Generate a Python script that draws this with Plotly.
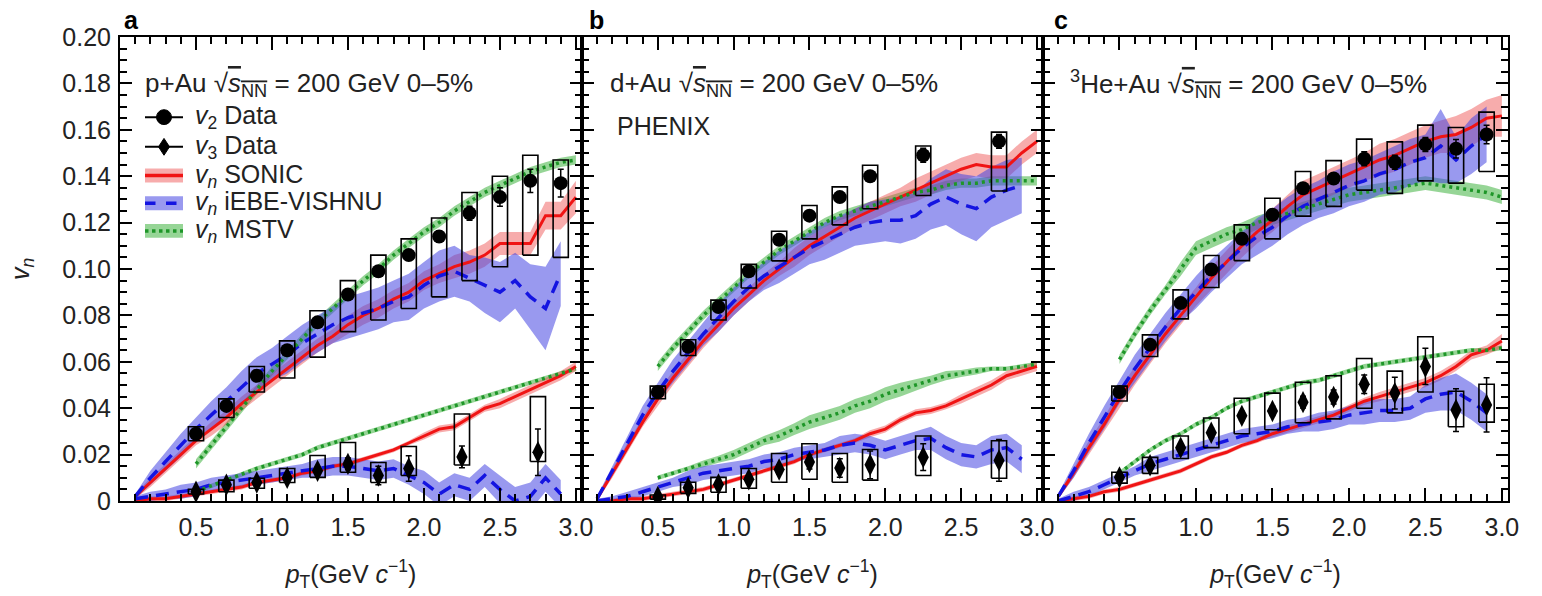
import plotly.graph_objects as go

# ---------------- data ----------------
pt_model = [0.1, 0.2, 0.3, 0.4, 0.5, 0.6, 0.7, 0.8, 0.9, 1.0, 1.1, 1.2, 1.3, 1.4, 1.5,
            1.6, 1.7, 1.8, 1.9, 2.0, 2.1, 2.2, 2.3, 2.4, 2.5, 2.6, 2.7, 2.8, 2.9, 3.0]
pt_vishnu = [0.1, 0.2, 0.3, 0.4, 0.5, 0.6, 0.7, 0.8, 0.9, 1.0, 1.1, 1.2, 1.3, 1.4, 1.5,
             1.6, 1.7, 1.8, 1.9, 2.0, 2.1, 2.2, 2.3, 2.4, 2.5, 2.6, 2.7, 2.8, 2.9]
pt_mstv = [0.5, 0.6, 0.7, 0.8, 0.9, 1.0, 1.1, 1.2, 1.3, 1.4, 1.5, 1.6, 1.7, 1.8, 1.9,
           2.0, 2.1, 2.2, 2.3, 2.4, 2.5, 2.6, 2.7, 2.8, 2.9, 3.0]

# Data points
pt_fine = [0.5, 0.7, 0.9, 1.1, 1.3, 1.5, 1.7, 1.9, 2.1, 2.3, 2.5, 2.7, 2.9]
pt_coarse = [0.5, 0.7, 0.9, 1.1, 1.3, 1.5, 1.7, 1.9, 2.25, 2.75]

# panel a: p+Au
a_v2 = [0.029, 0.041, 0.054, 0.065, 0.077, 0.089, 0.099, 0.106, 0.114, 0.124, 0.131, 0.138, 0.137]
a_v2_lo = [0.026, 0.036, 0.047, 0.053, 0.062, 0.073, 0.078, 0.083, 0.088, 0.095, 0.101, 0.106, 0.105]
a_v2_hi = [0.032, 0.044, 0.058, 0.069, 0.082, 0.095, 0.106, 0.113, 0.122, 0.133, 0.140, 0.149, 0.147]
a_v2_err = [0.001, 0.001, 0.001, 0.001, 0.001, 0.0015, 0.002, 0.002, 0.0025, 0.003, 0.004, 0.005, 0.006]
a_v3 = [0.004, 0.007, 0.008, 0.010, 0.013, 0.016, 0.011, 0.014, 0.019, 0.021]
a_v3_lo = [0.003, 0.004, 0.0055, 0.008, 0.0102, 0.0124, 0.008, 0.011, 0.0155, 0.017]
a_v3_hi = [0.005, 0.009, 0.0098, 0.014, 0.0196, 0.0252, 0.0166, 0.0235, 0.0375, 0.045]
a_v3_err = [0.0005, 0.001, 0.001, 0.001, 0.0015, 0.0025, 0.004, 0.0055, 0.0047, 0.010]

# panel b: d+Au
b_v2 = [0.047, 0.0665, 0.0836, 0.099, 0.1126, 0.123, 0.131, 0.140, 0.149, 0.155]
b_v2_lo = [0.0441, 0.0627, 0.078, 0.0918, 0.1035, 0.113, 0.119, 0.126, 0.1317, 0.1336]
b_v2_hi = [0.0495, 0.0695, 0.0866, 0.102, 0.1163, 0.1274, 0.1354, 0.1447, 0.153, 0.159]
b_v2_err = [0.001, 0.001, 0.001, 0.0015, 0.0015, 0.002, 0.002, 0.002, 0.003, 0.003]
b_v3 = [0.0017, 0.0057, 0.0071, 0.0094, 0.0136, 0.0168, 0.0142, 0.0156, 0.0189, 0.0175]
b_v3_lo = [0.0008, 0.0033, 0.0038, 0.0055, 0.0081, 0.0094, 0.0081, 0.009, 0.011, 0.0098]
b_v3_hi = [0.0026, 0.0081, 0.0102, 0.014, 0.0205, 0.0247, 0.0205, 0.0222, 0.028, 0.026]
b_v3_err = [0.0005, 0.001, 0.001, 0.0015, 0.002, 0.003, 0.004, 0.006, 0.0058, 0.009]

# panel c: 3He+Au
c_v2 = [0.047, 0.0674, 0.0853, 0.0998, 0.113, 0.1234, 0.1348, 0.139, 0.1475, 0.146, 0.1537, 0.1518, 0.158]
c_v2_lo = [0.0431, 0.0623, 0.0785, 0.092, 0.1036, 0.113, 0.1228, 0.127, 0.134, 0.1326, 0.138, 0.137, 0.142]
c_v2_hi = [0.0495, 0.0716, 0.091, 0.1058, 0.119, 0.1305, 0.142, 0.1467, 0.156, 0.1548, 0.162, 0.161, 0.1676]
c_v2_err = [0.001, 0.001, 0.001, 0.0015, 0.0015, 0.002, 0.002, 0.002, 0.003, 0.003, 0.003, 0.004, 0.004]
c_v3 = [0.0102, 0.0154, 0.023, 0.0294, 0.0367, 0.0388, 0.0426, 0.0448, 0.0503, 0.0465, 0.058, 0.0392, 0.0414]
c_v3_lo = [0.0077, 0.0119, 0.0183, 0.023, 0.029, 0.0307, 0.0337, 0.0354, 0.040, 0.038, 0.047, 0.032, 0.034]
c_v3_hi = [0.0124, 0.0188, 0.028, 0.0358, 0.0443, 0.0465, 0.0512, 0.054, 0.0614, 0.056, 0.0708, 0.0473, 0.0503]
c_v3_err = [0.001, 0.001, 0.0015, 0.002, 0.002, 0.002, 0.0025, 0.003, 0.004, 0.0068, 0.0078, 0.0092, 0.0117]

# Model curves (value, band half-width)
a_sonic_v2 = [0.002, 0.008, 0.014, 0.020, 0.026, 0.031, 0.036, 0.042, 0.047, 0.052, 0.057, 0.062, 0.067, 0.071, 0.076,
              0.080, 0.083, 0.087, 0.090, 0.095, 0.098, 0.101, 0.103, 0.106, 0.111, 0.111, 0.111, 0.123, 0.123, 0.131]
a_sonic_v2_w = [0.001, 0.002, 0.002, 0.002, 0.002, 0.003, 0.003, 0.003, 0.003, 0.003, 0.003, 0.003, 0.003, 0.003, 0.004,
                0.004, 0.004, 0.004, 0.004, 0.004, 0.004, 0.005, 0.005, 0.005, 0.005, 0.005, 0.005, 0.006, 0.006, 0.007]
a_vishnu_v2 = [0.002, 0.010, 0.017, 0.024, 0.031, 0.037, 0.043, 0.049, 0.055, 0.059, 0.063, 0.068, 0.072, 0.076, 0.079,
               0.081, 0.083, 0.086, 0.088, 0.093, 0.097, 0.099, 0.096, 0.093, 0.090, 0.095, 0.088, 0.083, 0.098]
a_vishnu_v2_w = [0.001, 0.003, 0.004, 0.005, 0.005, 0.006, 0.006, 0.007, 0.007, 0.007, 0.008, 0.008, 0.008, 0.008, 0.009,
                 0.009, 0.009, 0.009, 0.010, 0.010, 0.011, 0.011, 0.010, 0.012, 0.013, 0.012, 0.014, 0.018, 0.014]
a_mstv_v2 = [0.016, 0.024, 0.032, 0.040, 0.048, 0.056, 0.063, 0.070, 0.077, 0.083, 0.089, 0.095, 0.100,
             0.106, 0.111, 0.116, 0.120, 0.125, 0.129, 0.133, 0.136, 0.139, 0.142, 0.144, 0.146, 0.147]
a_mstv_v2_w = [0.002, 0.002, 0.002, 0.002, 0.002, 0.002, 0.002, 0.002, 0.002, 0.002, 0.002, 0.002, 0.002,
               0.002, 0.002, 0.002, 0.002, 0.002, 0.002, 0.002, 0.002, 0.002, 0.002, 0.002, 0.002, 0.002]
a_sonic_v3 = [0.000, 0.001, 0.001, 0.002, 0.003, 0.004, 0.005, 0.006, 0.008, 0.009, 0.010, 0.012, 0.013, 0.015, 0.016,
              0.018, 0.020, 0.022, 0.025, 0.028, 0.031, 0.032, 0.036, 0.040, 0.042, 0.045, 0.048, 0.051, 0.054, 0.058]
a_sonic_v3_w = [0.001, 0.001, 0.001, 0.001, 0.001, 0.001, 0.001, 0.001, 0.001, 0.001, 0.001, 0.001, 0.001, 0.001, 0.001,
                0.001, 0.001, 0.001, 0.001, 0.0015, 0.0015, 0.0015, 0.0015, 0.0015, 0.002, 0.002, 0.002, 0.002, 0.002, 0.002]
a_vishnu_v3 = [0.001, 0.002, 0.003, 0.004, 0.005, 0.007, 0.008, 0.009, 0.010, 0.011, 0.012, 0.013, 0.014, 0.015, 0.015,
               0.014, 0.013, 0.014, 0.011, 0.008, 0.003, 0.007, 0.005, 0.011, 0.005, 0.000, 0.002, 0.010, 0.003]
a_vishnu_v3_w = [0.001, 0.002, 0.002, 0.003, 0.003, 0.003, 0.003, 0.003, 0.003, 0.003, 0.003, 0.003, 0.004, 0.004, 0.004,
                 0.004, 0.004, 0.004, 0.004, 0.005, 0.005, 0.005, 0.005, 0.005, 0.006, 0.006, 0.006, 0.006, 0.006]
a_mstv_v3 = [0.004, 0.0065, 0.009, 0.0115, 0.014, 0.016, 0.018, 0.020, 0.023, 0.025, 0.027, 0.029, 0.031,
             0.033, 0.035, 0.037, 0.039, 0.041, 0.043, 0.045, 0.047, 0.049, 0.051, 0.053, 0.055, 0.057]
a_mstv_v3_w = [0.001, 0.001, 0.001, 0.001, 0.001, 0.001, 0.001, 0.001, 0.001, 0.001, 0.001, 0.001, 0.001,
               0.001, 0.001, 0.001, 0.001, 0.001, 0.001, 0.001, 0.001, 0.001, 0.001, 0.001, 0.001, 0.001]

b_sonic_v2 = [0.001, 0.012, 0.023, 0.034, 0.044, 0.053, 0.061, 0.069, 0.076, 0.083, 0.089, 0.095, 0.100, 0.105, 0.110,
              0.114, 0.118, 0.122, 0.125, 0.128, 0.131, 0.134, 0.137, 0.140, 0.143, 0.145, 0.144, 0.144, 0.150, 0.155]
b_sonic_v2_w = [0.001, 0.002, 0.002, 0.002, 0.003, 0.003, 0.003, 0.003, 0.003, 0.003, 0.003, 0.003, 0.003, 0.004, 0.004,
                0.004, 0.004, 0.004, 0.004, 0.004, 0.004, 0.005, 0.005, 0.005, 0.005, 0.005, 0.005, 0.005, 0.005, 0.005]
b_vishnu_v2 = [0.001, 0.013, 0.025, 0.037, 0.047, 0.056, 0.064, 0.072, 0.079, 0.086, 0.092, 0.097, 0.101, 0.105, 0.109,
               0.112, 0.115, 0.118, 0.120, 0.121, 0.121, 0.123, 0.128, 0.131, 0.128, 0.126, 0.131, 0.134, 0.136]
b_vishnu_v2_w = [0.001, 0.002, 0.003, 0.004, 0.004, 0.005, 0.005, 0.005, 0.006, 0.006, 0.006, 0.006, 0.007, 0.007, 0.007,
                 0.008, 0.008, 0.008, 0.009, 0.009, 0.010, 0.010, 0.011, 0.012, 0.013, 0.014, 0.013, 0.013, 0.012]
b_mstv_v2 = [0.058, 0.066, 0.073, 0.080, 0.086, 0.092, 0.098, 0.103, 0.108, 0.112, 0.116, 0.120, 0.123,
             0.125, 0.127, 0.129, 0.131, 0.133, 0.134, 0.136, 0.137, 0.137, 0.138, 0.138, 0.138, 0.138]
b_mstv_v2_w = [0.002, 0.002, 0.002, 0.002, 0.002, 0.002, 0.002, 0.002, 0.002, 0.002, 0.002, 0.002, 0.002,
               0.002, 0.002, 0.002, 0.002, 0.002, 0.002, 0.002, 0.002, 0.002, 0.002, 0.002, 0.002, 0.002]
b_sonic_v3 = [0.000, 0.000, 0.001, 0.001, 0.002, 0.003, 0.004, 0.005, 0.007, 0.009, 0.011, 0.013, 0.015, 0.017, 0.020,
              0.022, 0.024, 0.026, 0.029, 0.031, 0.035, 0.038, 0.039, 0.041, 0.044, 0.047, 0.050, 0.054, 0.056, 0.058]
b_sonic_v3_w = [0.001, 0.001, 0.001, 0.001, 0.001, 0.001, 0.001, 0.001, 0.001, 0.001, 0.001, 0.001, 0.001, 0.001, 0.001,
                0.001, 0.001, 0.001, 0.0015, 0.0015, 0.0015, 0.0015, 0.0015, 0.0015, 0.002, 0.002, 0.002, 0.002, 0.002, 0.002]
b_vishnu_v3 = [0.000, 0.001, 0.002, 0.004, 0.006, 0.008, 0.010, 0.012, 0.013, 0.014, 0.015, 0.017, 0.018, 0.020, 0.021,
               0.022, 0.024, 0.025, 0.024, 0.022, 0.024, 0.026, 0.027, 0.023, 0.020, 0.019, 0.022, 0.023, 0.018]
b_vishnu_v3_w = [0.001, 0.001, 0.002, 0.002, 0.002, 0.002, 0.003, 0.003, 0.003, 0.003, 0.003, 0.003, 0.003, 0.003, 0.003,
                 0.003, 0.004, 0.004, 0.004, 0.004, 0.004, 0.004, 0.005, 0.005, 0.005, 0.005, 0.006, 0.006, 0.006]
b_mstv_v3 = [0.010, 0.012, 0.014, 0.016, 0.018, 0.020, 0.023, 0.026, 0.028, 0.031, 0.034, 0.036, 0.038,
             0.041, 0.043, 0.046, 0.048, 0.050, 0.052, 0.054, 0.055, 0.056, 0.057, 0.057, 0.058, 0.059]
b_mstv_v3_w = [0.001, 0.001, 0.001, 0.0015, 0.0015, 0.002, 0.002, 0.002, 0.0025, 0.0025, 0.003, 0.003, 0.003,
               0.003, 0.003, 0.003, 0.003, 0.0025, 0.002, 0.002, 0.0015, 0.0015, 0.001, 0.001, 0.001, 0.001]

c_sonic_v2 = [0.002, 0.012, 0.023, 0.033, 0.044, 0.054, 0.063, 0.072, 0.080, 0.088, 0.096, 0.103, 0.110, 0.116, 0.121,
              0.127, 0.132, 0.135, 0.138, 0.141, 0.144, 0.147, 0.149, 0.152, 0.155, 0.157, 0.158, 0.161, 0.165, 0.166]
c_sonic_v2_w = [0.001, 0.002, 0.003, 0.003, 0.004, 0.004, 0.004, 0.004, 0.004, 0.004, 0.005, 0.005, 0.005, 0.005, 0.005,
                0.005, 0.006, 0.006, 0.006, 0.006, 0.006, 0.007, 0.007, 0.007, 0.007, 0.007, 0.008, 0.008, 0.008, 0.009]
c_vishnu_v2 = [0.002, 0.013, 0.025, 0.036, 0.047, 0.057, 0.066, 0.075, 0.083, 0.090, 0.097, 0.103, 0.109, 0.114, 0.118,
               0.123, 0.127, 0.130, 0.133, 0.136, 0.138, 0.141, 0.143, 0.146, 0.148, 0.153, 0.147, 0.153, 0.158]
c_vishnu_v2_w = [0.001, 0.003, 0.004, 0.005, 0.005, 0.006, 0.006, 0.006, 0.006, 0.007, 0.007, 0.007, 0.007, 0.008, 0.008,
                 0.008, 0.008, 0.008, 0.009, 0.009, 0.009, 0.009, 0.010, 0.010, 0.010, 0.016, 0.010, 0.012, 0.012]
c_mstv_v2 = [0.061, 0.072, 0.082, 0.091, 0.100, 0.109, 0.112, 0.115, 0.117, 0.120, 0.122, 0.124, 0.126,
             0.128, 0.130, 0.132, 0.133, 0.134, 0.135, 0.136, 0.137, 0.136, 0.135, 0.134, 0.133, 0.131]
c_mstv_v2_w = [0.002, 0.002, 0.002, 0.002, 0.003, 0.003, 0.003, 0.003, 0.003, 0.003, 0.003, 0.003, 0.003,
               0.003, 0.003, 0.003, 0.003, 0.003, 0.003, 0.003, 0.003, 0.003, 0.003, 0.003, 0.003, 0.003]
c_sonic_v3 = [0.000, 0.001, 0.002, 0.004, 0.005, 0.007, 0.009, 0.011, 0.013, 0.016, 0.019, 0.021, 0.024, 0.026, 0.029,
              0.031, 0.033, 0.035, 0.037, 0.040, 0.043, 0.045, 0.047, 0.049, 0.051, 0.054, 0.058, 0.063, 0.065, 0.069]
c_sonic_v3_w = [0.001, 0.001, 0.001, 0.001, 0.001, 0.001, 0.001, 0.001, 0.001, 0.001, 0.001, 0.001, 0.001, 0.001, 0.0015,
                0.0015, 0.0015, 0.0015, 0.0015, 0.0015, 0.0015, 0.002, 0.002, 0.002, 0.002, 0.002, 0.002, 0.002, 0.002, 0.003]
c_vishnu_v3 = [0.000, 0.002, 0.004, 0.007, 0.010, 0.013, 0.016, 0.018, 0.020, 0.022, 0.024, 0.026, 0.028, 0.029, 0.030,
               0.032, 0.033, 0.034, 0.035, 0.037, 0.038, 0.039, 0.039, 0.040, 0.044, 0.046, 0.047, 0.043, 0.038]
c_vishnu_v3_w = [0.001, 0.002, 0.002, 0.002, 0.002, 0.002, 0.003, 0.003, 0.003, 0.003, 0.003, 0.003, 0.003, 0.003, 0.003,
                 0.003, 0.003, 0.004, 0.004, 0.004, 0.005, 0.005, 0.005, 0.005, 0.006, 0.007, 0.008, 0.008, 0.008]
c_mstv_v3 = [0.012, 0.017, 0.022, 0.026, 0.029, 0.033, 0.036, 0.040, 0.043, 0.045, 0.047, 0.049, 0.051,
             0.052, 0.054, 0.056, 0.058, 0.059, 0.060, 0.061, 0.062, 0.063, 0.064, 0.065, 0.065, 0.066]
c_mstv_v3_w = [0.001, 0.001, 0.001, 0.001, 0.001, 0.001, 0.001, 0.001, 0.001, 0.001, 0.001, 0.001, 0.001,
               0.001, 0.001, 0.001, 0.001, 0.001, 0.001, 0.001, 0.001, 0.001, 0.001, 0.001, 0.001, 0.001]

panel_titles = ["p+Au √<span style='text-decoration:overline'><i>s</i><sub>NN</sub></span> = 200 GeV 0–5%",
                "d+Au √<span style='text-decoration:overline'><i>s</i><sub>NN</sub></span> = 200 GeV 0–5%",
                "<sup>3</sup>He+Au √<span style='text-decoration:overline'><i>s</i><sub>NN</sub></span> = 200 GeV 0–5%"]
panel_letters = ["a", "b", "c"]
x_tickvals = [0.5, 1.0, 1.5, 2.0, 2.5, 3.0]
x_ticktext = ["0.5", "1.0", "1.5", "2.0", "2.5", "3.0"]
y_tickvals = [0, 0.02, 0.04, 0.06, 0.08, 0.10, 0.12, 0.14, 0.16, 0.18, 0.20]
y_ticktext = ["0", "0.02", "0.04", "0.06", "0.08", "0.10", "0.12", "0.14", "0.16", "0.18", "0.20"]

# ---------------- style ----------------
FONT = "Liberation Sans, Arial, sans-serif"
TXT = "#222"
RED = "rgb(240,20,20)"
RED_BAND = "rgba(238,70,70,0.45)"
BLUE = "rgb(20,20,225)"
BLUE_BAND = "rgba(70,70,225,0.55)"
GREEN = "rgb(30,150,40)"
GREEN_BAND = "rgba(80,185,80,0.6)"
BOX_HW = 0.05

panels = [
    dict(v2x=pt_fine, v2=a_v2, v2lo=a_v2_lo, v2hi=a_v2_hi, v2e=a_v2_err,
         v3x=pt_coarse, v3=a_v3, v3lo=a_v3_lo, v3hi=a_v3_hi, v3e=a_v3_err,
         sonic=[(a_sonic_v2, a_sonic_v2_w), (a_sonic_v3, a_sonic_v3_w)],
         vishnu=[(a_vishnu_v2, a_vishnu_v2_w), (a_vishnu_v3, a_vishnu_v3_w)],
         mstv=[(a_mstv_v2, a_mstv_v2_w), (a_mstv_v3, a_mstv_v3_w)]),
    dict(v2x=pt_coarse, v2=b_v2, v2lo=b_v2_lo, v2hi=b_v2_hi, v2e=b_v2_err,
         v3x=pt_coarse, v3=b_v3, v3lo=b_v3_lo, v3hi=b_v3_hi, v3e=b_v3_err,
         sonic=[(b_sonic_v2, b_sonic_v2_w), (b_sonic_v3, b_sonic_v3_w)],
         vishnu=[(b_vishnu_v2, b_vishnu_v2_w), (b_vishnu_v3, b_vishnu_v3_w)],
         mstv=[(b_mstv_v2, b_mstv_v2_w), (b_mstv_v3, b_mstv_v3_w)]),
    dict(v2x=pt_fine, v2=c_v2, v2lo=c_v2_lo, v2hi=c_v2_hi, v2e=c_v2_err,
         v3x=pt_fine, v3=c_v3, v3lo=c_v3_lo, v3hi=c_v3_hi, v3e=c_v3_err,
         sonic=[(c_sonic_v2, c_sonic_v2_w), (c_sonic_v3, c_sonic_v3_w)],
         vishnu=[(c_vishnu_v2, c_vishnu_v2_w), (c_vishnu_v3, c_vishnu_v3_w)],
         mstv=[(c_mstv_v2, c_mstv_v2_w), (c_mstv_v3, c_mstv_v3_w)]),
]

fig = go.Figure()

W, H = 1542, 596
ML, MR, MT, MB = 120, 34, 37, 90
pw = W - ML - MR
edges = [0, 462, 923, pw]
domains = [[edges[i] / pw, edges[i + 1] / pw] for i in range(3)]


def band(x, y, w, color, xa, ya):
    up = [a + b for a, b in zip(y, w)]
    lo = [a - b for a, b in zip(y, w)]
    fig.add_trace(go.Scatter(x=list(x) + list(x)[::-1], y=up + lo[::-1], fill="toself",
                             fillcolor=color, line=dict(width=0), mode="lines",
                             xaxis=xa, yaxis=ya, showlegend=False, hoverinfo="skip"))


def line(x, y, color, dash, width, xa, ya):
    fig.add_trace(go.Scatter(x=x, y=y, mode="lines", line=dict(color=color, dash=dash, width=width),
                             xaxis=xa, yaxis=ya, showlegend=False))


def boxes(x, lo, hi, xa, ya):
    bx, by = [], []
    for xi, l, h in zip(x, lo, hi):
        bx += [xi - BOX_HW, xi + BOX_HW, xi + BOX_HW, xi - BOX_HW, xi - BOX_HW, None]
        by += [l, l, h, h, l, None]
    fig.add_trace(go.Scatter(x=bx, y=by, mode="lines", line=dict(color="black", width=1.6),
                             xaxis=xa, yaxis=ya, showlegend=False, hoverinfo="skip"))


for i, p in enumerate(panels):
    xa = "x" if i == 0 else f"x{i+1}"
    ya = "y" if i == 0 else f"y{i+1}"
    for (y, w) in p["mstv"]:
        band(pt_mstv, y, w, GREEN_BAND, xa, ya)
    for (y, w) in p["sonic"]:
        band(pt_model, y, w, RED_BAND, xa, ya)
    for (y, w) in p["vishnu"]:
        band(pt_vishnu, y, w, BLUE_BAND, xa, ya)
    for (y, w) in p["sonic"]:
        line(pt_model, y, RED, "solid", 3, xa, ya)
    for (y, w) in p["vishnu"]:
        line(pt_vishnu, y, BLUE, "13px,8px", 3.5, xa, ya)
    for (y, w) in p["mstv"]:
        line(pt_mstv, y, GREEN, "3px,4px", 3.5, xa, ya)
    boxes(p["v2x"], p["v2lo"], p["v2hi"], xa, ya)
    boxes(p["v3x"], p["v3lo"], p["v3hi"], xa, ya)
    fig.add_trace(go.Scatter(x=p["v2x"], y=p["v2"], mode="markers",
                             marker=dict(symbol="circle", size=14, color="black"),
                             error_y=dict(type="data", array=p["v2e"], color="black", thickness=1.5, width=3),
                             xaxis=xa, yaxis=ya, showlegend=False))
    fig.add_trace(go.Scatter(x=p["v3x"], y=p["v3"], mode="markers",
                             marker=dict(symbol="diamond-tall", size=16, color="black"),
                             error_y=dict(type="data", array=p["v3e"], color="black", thickness=1.5, width=3),
                             xaxis=xa, yaxis=ya, showlegend=False))

axis_common = dict(showline=True, linecolor="black", linewidth=2, mirror="allticks",
                   ticks="inside", tickcolor="black", tickwidth=1.5, showgrid=False, zeroline=False,
                   tickfont=dict(family=FONT, size=25, color=TXT))
for i in range(3):
    xk = "xaxis" if i == 0 else f"xaxis{i+1}"
    yk = "yaxis" if i == 0 else f"yaxis{i+1}"
    ya = "y" if i == 0 else f"y{i+1}"
    xa = "x" if i == 0 else f"x{i+1}"
    fig.layout[xk] = dict(axis_common, domain=domains[i], range=[0, 3.04], anchor=ya,
                          tickvals=x_tickvals, ticktext=x_ticktext, ticklen=13, ticklabelstandoff=3,
                          minor=dict(dtick=0.1, tick0=0, ticklen=7, ticks="inside", tickcolor="black", tickwidth=1.5),
                          title=dict(text="<i>p</i><sub>T</sub>(GeV <i>c</i><sup>−1</sup>)",
                                     font=dict(family=FONT, size=25, color=TXT), standoff=25))
    fig.layout[yk] = dict(axis_common, domain=[0, 1], range=[0, 0.2], anchor=xa,
                          tickvals=y_tickvals, ticktext=y_ticktext, ticklen=12, showticklabels=(i == 0),
                          ticklabelstandoff=2,
                          minor=dict(dtick=0.005, tick0=0, ticklen=7, ticks="inside", tickcolor="black", tickwidth=1.5))

annotations = []
title_x = [0.05, 0.056, 0.054]
letter_x = [0.004, 0.011, 0.019]
for i in range(3):
    xd = "x domain" if i == 0 else f"x{i+1} domain"
    yd = "y domain" if i == 0 else f"y{i+1} domain"
    annotations.append(dict(text=panel_titles[i], xref=xd, yref=yd, x=title_x[i], y=0.898,
                            xanchor="left", yanchor="middle", showarrow=False,
                            font=dict(family=FONT, size=26, color=TXT)))
    annotations.append(dict(text="<b>" + panel_letters[i] + "</b>", xref=xd, yref=yd, x=letter_x[i], y=1.0,
                            xanchor="left", yanchor="bottom", showarrow=False, yshift=1,
                            font=dict(family=FONT, size=25, color="black")))
annotations.append(dict(text="PHENIX", xref="x2 domain", yref="y2 domain", x=0.072, y=0.808,
                        xanchor="left", yanchor="middle", showarrow=False,
                        font=dict(family=FONT, size=25, color=TXT)))
annotations.append(dict(text="<i>v</i><sub><i>n</i></sub>", xref="paper", yref="paper", x=-98 / pw, y=0.5,
                        xanchor="center", yanchor="middle", textangle=-90, showarrow=False,
                        font=dict(family=FONT, size=25, color=TXT)))

# manual legend in panel a
leg_labels = ["<i>v</i><sub>2</sub> Data", "<i>v</i><sub>3</sub> Data", "<i>v</i><sub><i>n</i></sub> SONIC",
              "<i>v</i><sub><i>n</i></sub> iEBE-VISHNU", "<i>v</i><sub><i>n</i></sub> MSTV"]
ph = 469.0
pwa = 462.0
rows_y = [1 - 81 / ph, 1 - 111 / ph, 1 - 140 / ph, 1 - 168 / ph, 1 - 196 / ph]
sx0, sx1, sxc = 25 / pwa, 63 / pwa, 44 / pwa
shapes = []
for j, (lab, yy) in enumerate(zip(leg_labels, rows_y)):
    annotations.append(dict(text=lab, xref="x domain", yref="y domain", x=73 / pwa, y=yy,
                            xanchor="left", yanchor="middle", showarrow=False,
                            font=dict(family=FONT, size=25, color=TXT)))
bh = 7 / ph
shapes.append(dict(type="line", xref="x domain", yref="y domain", x0=sx0, x1=sx1, y0=rows_y[0], y1=rows_y[0],
                   line=dict(color="black", width=2)))
shapes.append(dict(type="circle", xref="x domain", yref="y domain", x0=sxc - 7.5 / pwa, x1=sxc + 7.5 / pwa,
                   y0=rows_y[0] - 7.5 / ph, y1=rows_y[0] + 7.5 / ph, fillcolor="black", line=dict(color="black", width=1)))
shapes.append(dict(type="line", xref="x domain", yref="y domain", x0=sx0, x1=sx1, y0=rows_y[1], y1=rows_y[1],
                   line=dict(color="black", width=2)))
dx, dy = 5.5 / pwa, 8.5 / ph
shapes.append(dict(type="path", xref="x domain", yref="y domain",
                   path=f"M {sxc} {rows_y[1] + dy} L {sxc + dx} {rows_y[1]} L {sxc} {rows_y[1] - dy} L {sxc - dx} {rows_y[1]} Z",
                   fillcolor="black", line=dict(color="black", width=1)))
for yy, bc, lc, dsh in [(rows_y[2], RED_BAND, RED, "solid"), (rows_y[3], BLUE_BAND, BLUE, "dash"),
                        (rows_y[4], GREEN_BAND, GREEN, "dot")]:
    shapes.append(dict(type="rect", xref="x domain", yref="y domain", x0=sx0, x1=sx1, y0=yy - bh, y1=yy + bh,
                       fillcolor=bc, line=dict(width=0)))
    shapes.append(dict(type="line", xref="x domain", yref="y domain", x0=sx0, x1=sx1, y0=yy, y1=yy,
                       line=dict(color=lc, width=3.5, dash=dsh)))

fig.update_layout(width=W, height=H, margin=dict(l=ML, r=MR, t=MT, b=MB),
                  paper_bgcolor="white", plot_bgcolor="white", showlegend=False,
                  annotations=annotations, shapes=shapes, font=dict(family=FONT))

fig.write_html("out.html", config={"displayModeBar": False},
               post_script="document.body.style.margin='0px';")
